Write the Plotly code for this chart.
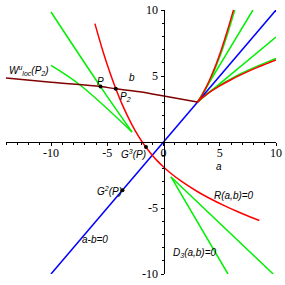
import plotly.graph_objects as go

# ---- data ----
# R(a,b)=0 : cusp branch (upper-right)
red_cusp_a = [6.22, 6.11, 5.63, 5.16, 4.70, 4.25, 3.83, 3.44, 3.25, 3.09, 3.03, 3.0,
              3.03, 3.11, 3.30, 3.58, 4.21, 5.0, 5.95, 7.05, 8.29, 9.67, 10.0]
red_cusp_b = [10.0, 9.67, 8.29, 7.05, 5.95, 5.0, 4.21, 3.58, 3.30, 3.11, 3.03, 3.0,
              3.03, 3.09, 3.25, 3.44, 3.83, 4.25, 4.70, 5.16, 5.63, 6.11, 6.22]
# R(a,b)=0 : smooth branch
red_main_a = [-6.10, -5.37, -4.84, -4.30, -3.75, -3.17, -2.56, -1.86, -1.37, -1.0, -0.57,
              -0.04, 0.64, 1.58, 3.0, 4.04, 5.45, 6.56, 7.46, 8.52]
red_main_b = [8.97, 6.84, 5.45, 4.17, 3.0, 1.92, 0.92, -0.04, -0.61, -1.0, -1.41,
              -1.86, -2.37, -2.97, -3.75, -4.24, -4.84, -5.27, -5.59, -5.95]

# a-b=0
blue_a = [-10, 10]
blue_b = [-10, 10]

# D3(a,b)=0 pieces
green_pieces = [
    ([-10.0, -5.6, -2.8], [9.85, 4.2, 0.76]),
    ([-10.0, -7.42, -2.8], [5.8, 4.32, 0.76]),
    ([3.0, 3.27, 3.47, 3.87, 4.31, 4.77, 5.25, 5.73, 6.22, 6.33],
     [3.0, 3.3, 3.58, 4.21, 5.0, 5.95, 7.05, 8.29, 9.67, 10.0]),
    ([3.0, 7.95], [3.0, 10.0]),
    ([3.0, 10.0], [3.0, 7.95]),
    ([3.0, 3.3, 3.58, 4.21, 5.0, 5.95, 7.05, 8.29, 9.67, 10.0],
     [3.0, 3.27, 3.47, 3.87, 4.31, 4.77, 5.25, 5.73, 6.22, 6.33]),
    ([0.67, 5.73], [-2.65, -10.0]),
    ([0.67, 9.75], [-2.65, -10.0]),
]

# W^u_loc(P2)
brown_a = [-14.0, -10.0, -5.6, -4.24, -2.1, 0.4, 3.0]
brown_b = [4.85, 4.52, 4.2, 4.03, 3.8, 3.42, 3.03]

# marked points: P, P2, G^3(P), G^2(P)
pts_a = [-5.6, -4.24, -1.56, -3.65]
pts_b = [4.2, 4.03, -0.38, -3.65]

x_tickvals = [-10, -5, 0, 5, 10]
x_ticktext = ["-10", "-5", "0", "5", "10"]
y_tickvals = [-10, -5, 5, 10]
y_ticktext = ["-10", "-5", "5", "10"]

labels = [
    ("W<sup>u</sup><sub>loc</sub>(P<sub>2</sub>)", -13.9, 5.4, "left"),
    ("P", -5.64, 4.62, "center"),
    ("P<sub>2</sub>", -3.42, 3.41, "center"),
    ("b", -2.8, 4.92, "center"),
    ("a", 4.93, -1.82, "center"),
    ("G<sup>3</sup>(P)", -2.71, -0.91, "center"),
    ("G<sup>2</sup>(P)", -4.76, -3.72, "center"),
    ("a-b=0", -6.13, -7.35, "center"),
    ("R(a,b)=0", 6.27, -4.09, "center"),
    ("D<sub>3</sub>(a,b)=0", 2.84, -8.41, "center"),
]

# ---- figure ----
fig = go.Figure()
for ga, gb in green_pieces:
    fig.add_trace(go.Scatter(x=ga, y=gb, mode="lines", line=dict(color="#00f000", width=1.5, shape="spline")))
fig.add_trace(go.Scatter(x=blue_a, y=blue_b, mode="lines", line=dict(color="#0000ff", width=1.5)))
fig.add_trace(go.Scatter(x=red_cusp_a, y=red_cusp_b, mode="lines", line=dict(color="#ff0000", width=1.5, shape="spline")))
fig.add_trace(go.Scatter(x=red_main_a, y=red_main_b, mode="lines", line=dict(color="#ff0000", width=1.5, shape="spline")))
fig.add_trace(go.Scatter(x=brown_a, y=brown_b, mode="lines", line=dict(color="#800000", width=1.5, shape="spline")))
fig.add_trace(go.Scatter(x=pts_a, y=pts_b, mode="markers", marker=dict(color="black", size=4)))

for txt, xa, yb, anc in labels:
    fig.add_annotation(x=xa, y=yb, text="<i>" + txt + "</i>", showarrow=False, xanchor=anc, yanchor="middle",
                       font=dict(family="Liberation Sans", size=10, color="black"))

axis_common = dict(showgrid=False, zeroline=False, showline=True, linecolor="black", linewidth=1,
                   ticks="outside", ticklen=3, tickcolor="black", tickwidth=1,
                   tickfont=dict(family="Liberation Serif", size=12, color="black"),
                   tickmode="array", automargin=False,
                   minor=dict(dtick=1, tick0=0, ticks="outside", ticklen=2, tickcolor="black", tickwidth=1, showgrid=False))

fig.update_layout(
    width=285, height=285,
    margin=dict(l=6, r=9, t=10, b=11),
    paper_bgcolor="white", plot_bgcolor="white",
    showlegend=False,
    hovermode=False,
    xaxis=dict(range=[-14, 10], anchor="free", position=0.5, tickvals=x_tickvals, ticktext=x_ticktext,
               ticklabelstandoff=-3, **axis_common),
    yaxis=dict(range=[-10, 10], anchor="free", position=14/24, tickvals=y_tickvals, ticktext=y_ticktext,
               **axis_common),
)

fig.write_html("out.html", config={"displayModeBar": False, "staticPlot": True},
               post_script="document.body.style.margin='0';")
